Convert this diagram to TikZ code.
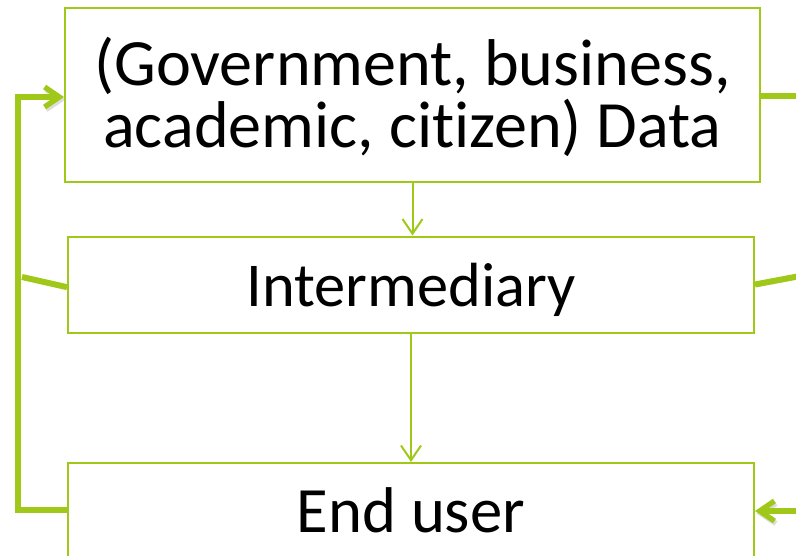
\documentclass[tikz,border=0pt]{standalone}
\usepackage{fontspec}
\setmainfont[Ligatures={NoCommon}]{Carlito}
\usetikzlibrary{arrows.meta}
\definecolor{lime}{RGB}{160,200,25}
\begin{document}
\begin{tikzpicture}[x=0.75pt,y=-0.75pt,
  box/.style={draw=lime, line width=1.5pt, fill=white, inner sep=0pt, align=center,
    font=\fontsize{48.5}{47.25}\selectfont},
  thinarrow/.style={draw=lime, line width=1.5pt, -{Straight Barb[length=11pt,width=15pt,line width=1.5pt]}},
  thickline/.style={draw=lime, line width=4.5pt, line join=miter,
    preaction={draw=black!30, opacity=0.45, transform canvas={shift={(1.5,2.5)}}}},
  thickarrow/.style={thickline, -{Straight Barb[length=11pt,width=15pt,line width=4pt]}}
]
\useasboundingbox (0,0) rectangle (796,556);
\clip (0,0) rectangle (796,556);

\node[box, minimum width=521.25pt, minimum height=130.5pt, font=\fontsize{49.6}{47.25}\selectfont] (A) at (412.5,95)
  {\rule{0pt}{43.25pt}(Government, business,\\academic, citizen) Data\rule[-11pt]{0pt}{11pt}};
\node[box, minimum width=514.5pt, minimum height=72pt, text height=32.25pt, text depth=0pt,
  font=\fontsize{46.8}{47}\selectfont] (B) at (411,284.5) {Intermediary};
\node[box, minimum width=514.5pt, minimum height=72pt, text height=31.5pt, text depth=0pt] (C) at (411,511) {End user};

\draw[thinarrow] (A.south) -- (A.south |- B.north);
\draw[thinarrow] (B.south) -- (B.south |- C.north);

\coordinate (LB) at (18,510);
\coordinate (LT) at (18,97);
\coordinate (LM) at (22,277);
\coordinate (RA) at (800,96);
\coordinate (RB) at (800,276);
\coordinate (RC) at (800,511);

\draw[thickarrow] (LB -| C.west) -- (LB) -- (LT) -- (LT -| A.west);
\draw[thickline] (LM) -- ([yshift=-2pt]B.west);
\draw[thickline] (RA -| A.east) -- (RA);
\draw[thickline] (B.east) -- (RB);
\draw[thickarrow] (RC) -- (RC -| C.east);
\end{tikzpicture}
\end{document}
